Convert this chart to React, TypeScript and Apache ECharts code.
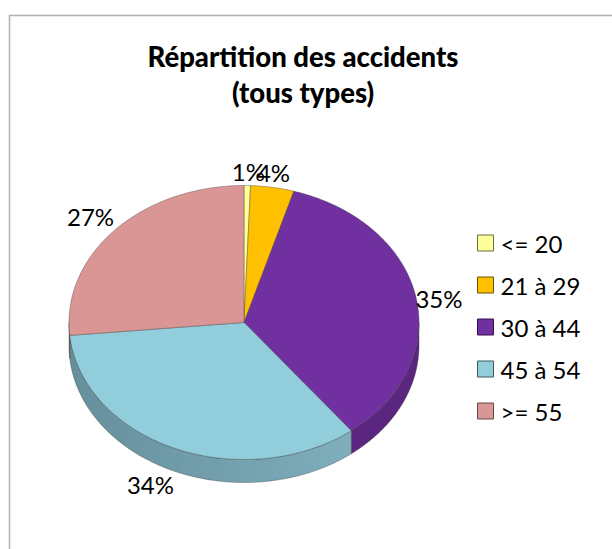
import React, { useEffect, useRef } from "react";
import * as echarts from "echarts";

const categories = ["<= 20", "21 à 29", "30 à 44", "45 à 54", ">= 55"];
const shares = [0.6, 4, 34.9, 34, 26.5];
const topColors = ["#FFFF99", "#FFC000", "#7030A0", "#92CDDC", "#D99694"];
const wallFrom = ["#A6A65C", "#A67D00", "#5A2680", "#668F9C", "#7F5553"];
const wallTo = ["#BFBF73", "#BF9000", "#5A2680", "#7FAEBC", "#8F6361"];
const legendBorders = ["#6B6B40", "#6B5200", "#35104F", "#3E5A62", "#664645"];
const labelOffsets = [
  [1, -14],
  [1, -15],
  [23, 1],
  [-24, 36],
  [-24, -14],
];

const FONT = "Lato";
const CX = 244;
const CY = 322.5;
const RX = 175;
const RY = 137;
const DEPTH = 23;
const total = shares.reduce((a, b) => a + b, 0);

const pt = (deg: number, dy = 0): number[] => {
  const t = (deg * Math.PI) / 180;
  return [CX + RX * Math.sin(t), CY - RY * Math.cos(t) + dy];
};
const arc = (a: number, b: number, dy = 0): number[][] => {
  const n = Math.max(2, Math.ceil(Math.abs(b - a) * 2));
  const out: number[][] = [];
  for (let k = 0; k <= n; k++) out.push(pt(a + ((b - a) * k) / n, dy));
  return out;
};

const sliceSeries = (i: number) => {
  const start = (shares.slice(0, i).reduce((a, b) => a + b, 0) / total) * 360;
  const end = start + (shares[i] / total) * 360;
  const renderItem = (_p: unknown, api: any) => {
    const pct = Math.round((api.value(0) / total) * 100);
    const children: any[] = [];
    const w0 = Math.max(start, 90);
    const w1 = Math.min(end, 270);
    if (w1 > w0) {
      children.push({
        type: "polygon",
        z2: 1,
        shape: { points: [...arc(w0, w1), ...arc(w1, w0, DEPTH)] },
        style: {
          fill: new echarts.graphic.LinearGradient(0, 0, 1, 0, [
            { offset: 0, color: wallFrom[i] },
            { offset: 1, color: wallTo[i] },
          ]),
          stroke: "#33333399",
          lineWidth: 0.6,
        },
      });
    }
    children.push({
      type: "polygon",
      z2: 2,
      shape: { points: [[CX, CY], ...arc(start, end)] },
      style: { fill: topColors[i], stroke: "#33333399", lineWidth: 0.6 },
    });
    const mid = pt((start + end) / 2);
    children.push({
      type: "text",
      z2: 5,
      style: {
        x: mid[0] + labelOffsets[i][0],
        y: mid[1] + labelOffsets[i][1],
        text: pct + "%",
        fill: "#000000",
        font: "24px " + FONT,
        align: "center",
        verticalAlign: "middle",
      },
    });
    return { type: "group", children };
  };
  return {
    type: "custom",
    name: categories[i],
    coordinateSystem: "none",
    silent: true,
    data: [[shares[i]]],
    itemStyle: { color: topColors[i] },
    renderItem,
  };
};

export default function App() {
  const ref = useRef<HTMLDivElement>(null);
  useEffect(() => {
    document.body.style.margin = "0";
    const chart = echarts.init(ref.current!, null, { renderer: "svg" });
    chart.setOption({
      animation: false,
      backgroundColor: "#ffffff",
      title: {
        text: "Répartition des accidents\n(tous types)",
        left: 298,
        top: 33,
        textAlign: "center",
        textStyle: { fontFamily: FONT, fontWeight: 900, fontSize: 27.5, lineHeight: 36, color: "#000000" },
      },
      legend: {
        orient: "vertical",
        left: 472,
        top: 226,
        icon: "rect",
        itemWidth: 16,
        itemHeight: 16,
        itemGap: 18,
        selectedMode: false,
        textStyle: { fontFamily: FONT, fontSize: 24, color: "#000000", padding: [0, 0, 0, 2] },
        data: categories.map((name, i) => ({
          name,
          itemStyle: { color: topColors[i], borderColor: legendBorders[i], borderWidth: 1 },
        })),
      },
      graphic: [
        {
          type: "rect",
          silent: true,
          shape: { x: 9.5, y: 15.5, width: 700, height: 700 },
          style: { fill: "none", stroke: "#B0B0B0", lineWidth: 1.5 },
        },
      ],
      series: categories.map((_, i) => sliceSeries(i)),
    });
    return () => chart.dispose();
  }, []);
  return <div ref={ref} style={{ position: "absolute", left: 0, top: 0, width: 612, height: 549 }} />;
}
